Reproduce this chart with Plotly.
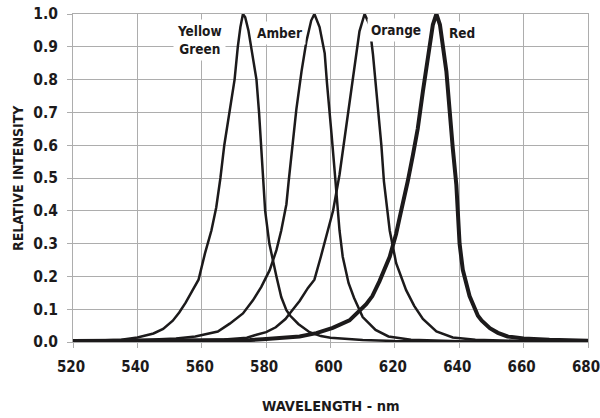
import plotly.graph_objects as go

# ---- data ----
yg_nm = [520, 530, 535, 540, 545, 548, 551, 553, 555, 557, 559, 561, 563, 564.5, 565.8,
         567, 568.7, 570.2, 571.2, 572, 572.8, 573.5, 574.5, 575.4, 577, 577.8, 578.5,
         579, 579.7, 581, 582, 583.2, 584.7, 586.3, 587.5, 590, 593.5, 597, 600, 605,
         610, 620, 630, 650, 680]
yg_int = [0.002, 0.004, 0.007, 0.014, 0.026, 0.04, 0.065, 0.09, 0.12, 0.155, 0.19, 0.27,
          0.34, 0.41, 0.5, 0.6, 0.7, 0.8, 0.9, 0.96, 1.0, 0.99, 0.95, 0.9, 0.8, 0.7, 0.6,
          0.5, 0.4, 0.3, 0.25, 0.2, 0.137, 0.097, 0.08, 0.055, 0.03, 0.018, 0.013, 0.009,
          0.006, 0.003, 0.002, 0.001, 0.001]

amber_nm = [520, 530, 538, 545, 552, 558, 562, 565, 568.7, 572.8, 575.9, 578.5, 581.1,
            583.2, 584.7, 586.3, 587, 588, 589.4, 591, 592.5, 594, 595, 596.6, 598.2,
            598.9, 599.6, 600.3, 601.3, 602, 602.8, 603.8, 604.6, 605.6, 607.3, 610,
            614, 618, 625, 640, 680]
amber_int = [0.001, 0.002, 0.005, 0.008, 0.011, 0.017, 0.025, 0.032, 0.056, 0.087, 0.127,
             0.168, 0.219, 0.28, 0.34, 0.42, 0.49, 0.58, 0.71, 0.825, 0.916, 0.98, 1.0,
             0.96, 0.88, 0.79, 0.7, 0.636, 0.52, 0.44, 0.34, 0.26, 0.22, 0.18, 0.135,
             0.076, 0.037, 0.017, 0.007, 0.002, 0.001]

orange_nm = [520, 540, 560, 567, 574, 577, 580, 583, 586, 588, 590.4, 593, 595, 597, 599.2,
             600.8, 602.8, 604.4, 605.9, 607.5, 609, 610.6, 612.1, 613.2, 614.7, 615.8,
             616.6, 618.4, 620.4, 623.5, 626, 628.7, 632.9, 638, 645, 660, 680]
orange_int = [0.0, 0.002, 0.005, 0.008, 0.013, 0.022, 0.03, 0.045, 0.07, 0.095, 0.125,
              0.165, 0.19, 0.26, 0.34, 0.40, 0.51, 0.62, 0.733, 0.835, 0.947, 1.0, 0.967,
              0.876, 0.723, 0.6, 0.49, 0.34, 0.24, 0.158, 0.11, 0.07, 0.032, 0.014, 0.007,
              0.003, 0.002]

red_nm = [520, 560, 575, 580, 585, 590.4, 595.6, 600.7, 605.9, 608, 611.1, 613, 615.2,
          618.4, 620.4, 621.5, 623, 624, 625.6, 627.1, 628.7, 630.3, 631.8, 632.9, 634,
          636, 637, 638, 639.1, 639.6, 640.1, 641.1, 642, 643.2, 645.8, 647, 649.5, 652,
          655, 660, 668, 680]
red_int = [0.003, 0.004, 0.006, 0.009, 0.012, 0.017, 0.027, 0.043, 0.066, 0.085, 0.115,
           0.14, 0.185, 0.26, 0.33, 0.38, 0.44, 0.49, 0.57, 0.65, 0.764, 0.876, 0.967,
           1.0, 0.967, 0.825, 0.692, 0.59, 0.479, 0.40, 0.30, 0.22, 0.18, 0.14, 0.08,
           0.065, 0.042, 0.028, 0.017, 0.011, 0.007, 0.004]

series_names = ["Yellow Green", "Amber", "Orange", "Red"]
label_texts = ["Yellow<br>Green", "Amber", "Orange", "Red"]
label_x = [559.3, 584.2, 620.2, 641.0]
label_y = [0.92, 0.943, 0.952, 0.943]

x_ticks = [520, 540, 560, 580, 600, 620, 640, 660, 680]
y_ticks = [0.0, 0.1, 0.2, 0.3, 0.4, 0.5, 0.6, 0.7, 0.8, 0.9, 1.0]

FONT = "DejaVu Sans Condensed, Liberation Sans Narrow, sans-serif"
INK = "#1c1a1b"
GRID = "#adadad"

fig = go.Figure()
data = [(yg_nm, yg_int, 2.5), (amber_nm, amber_int, 2.5),
        (orange_nm, orange_int, 2.5), (red_nm, red_int, 4.0)]
for (xs, ys, w), name in zip(data, series_names):
    fig.add_trace(go.Scatter(x=xs, y=ys, mode="lines", name=name,
                             line=dict(color=INK, width=w),
                             showlegend=False))

for t, xv, yv in zip(label_texts, label_x, label_y):
    fig.add_annotation(x=xv, y=yv, xref="x", yref="y", text="<b>" + t + "</b>",
                       showarrow=False, bgcolor="white", borderpad=3,
                       font=dict(family=FONT, size=13.5, color=INK))

# axis titles
fig.add_annotation(x=0.5, y=0, xref="paper", yref="paper", yshift=-64,
                   text="<b>WAVELENGTH - nm</b>", showarrow=False,
                   xanchor="center", yanchor="middle",
                   font=dict(family=FONT, size=14.5, color=INK))
fig.add_annotation(x=0, y=0.5, xref="paper", yref="paper", xshift=-55,
                   text="<b>RELATIVE INTENSITY</b>", showarrow=False, textangle=-90,
                   xanchor="center", yanchor="middle",
                   font=dict(family=FONT, size=14, color=INK))

fig.update_layout(
    width=600, height=418,
    margin=dict(l=73, r=12, t=14, b=76, autoexpand=False),
    paper_bgcolor="white", plot_bgcolor="white",
    font=dict(family=FONT, color=INK),
)
fig.update_xaxes(
    range=[520, 680], tickvals=x_ticks, ticktext=["<b>%d</b>" % v for v in x_ticks],
    showgrid=True, gridcolor=GRID, gridwidth=1,
    showline=True, linecolor=GRID, linewidth=1, mirror=True,
    ticks="outside", ticklen=5, tickcolor=GRID, ticklabelstandoff=6,
    ticklabelshift=-2, ticklabeloverflow="allow",
    tickfont=dict(family=FONT, size=15, color=INK),
    automargin=False, zeroline=False,
)
fig.update_yaxes(
    range=[0, 1.0], tickvals=y_ticks, ticktext=["<b>%.1f</b>" % v for v in y_ticks],
    showgrid=True, gridcolor=GRID, gridwidth=1,
    showline=True, linecolor=GRID, linewidth=1, mirror=True,
    ticks="outside", ticklen=5, tickcolor=GRID, ticklabelstandoff=6,
    ticklabeloverflow="allow",
    tickfont=dict(family=FONT, size=15.5, color=INK),
    automargin=False, zeroline=False,
)

fig.write_html("out.html", config={"displayModeBar": False},
               post_script="document.body.style.margin='0px';")
